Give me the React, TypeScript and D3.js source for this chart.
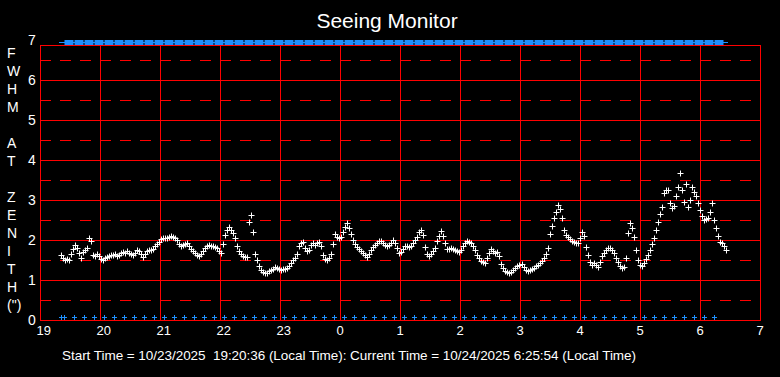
import React from "react";
import * as d3 from "d3";

const TITLE = "Seeing Monitor";
const FOOTER = "Start Time = 10/23/2025  19:20:36 (Local Time): Current Time = 10/24/2025 6:25:54 (Local Time)";
const Y_LETTERS = ["F", "W", "H", "M", "", "A", "T", "", "Z", "E", "N", "I", "T", "H", "(\")"];
const X_TICK_VALUES = [19, 20, 21, 22, 23, 24, 25, 26, 27, 28, 29, 30, 31];
const X_TICK_LABELS = ["19", "20", "21", "22", "23", "0", "1", "2", "3", "4", "5", "6", "7"];
const Y_TICK_VALUES = [0, 1, 2, 3, 4, 5, 6, 7];
const Y_HALF_VALUES = [0.5, 1.5, 2.5, 3.5, 4.5, 5.5, 6.5];

// start 19:20:36, end 06:25:54 (next day), hours since 0:00 of first day
const START_HOUR = 19 + 20 / 60 + 36 / 3600;
const END_HOUR = 30 + 25 / 60 + 54 / 3600;

// FWHM seeing values (arcsec), evenly sampled from start to end
const FWHM = [
  1.63, 1.55, 1.5, 1.52, 1.5, 1.65, 1.78, 1.87, 1.8, 1.68,
  1.56, 1.7, 1.75, 1.8, 2.05, 1.98, 1.62, 1.6, 1.66, 1.6,
  1.52, 1.5, 1.55, 1.57, 1.6, 1.63, 1.62, 1.64, 1.6, 1.62,
  1.68, 1.7, 1.68, 1.72, 1.68, 1.65, 1.62, 1.68, 1.75, 1.72,
  1.65, 1.58, 1.65, 1.72, 1.75, 1.74, 1.78, 1.85, 1.9, 1.95,
  2.02, 2.05, 2.06, 2.04, 2.08, 2.1, 2.08, 2.04, 2.0, 1.9,
  1.85, 1.88, 1.9, 1.92, 1.85, 1.78, 1.72, 1.67, 1.62, 1.6,
  1.65, 1.72, 1.8, 1.85, 1.87, 1.85, 1.84, 1.82, 1.8, 1.72,
  1.67, 1.9, 2.12, 2.25, 2.32, 2.25, 2.18, 2.05, 1.85, 1.72,
  1.65, 1.6, 1.58, 1.58, 2.45, 2.62, 2.2, 1.65, 1.5, 1.35,
  1.25, 1.2, 1.17, 1.18, 1.22, 1.25, 1.28, 1.32, 1.3, 1.27,
  1.26, 1.28, 1.27, 1.3, 1.35, 1.42, 1.5, 1.56, 1.64, 1.85,
  1.93, 1.95, 1.8, 1.72, 1.75, 1.88, 1.92, 1.87, 1.93, 1.95,
  1.85, 1.62, 1.52, 1.5, 1.55, 1.65, 1.9, 2.15, 2.08, 2.05,
  2.07, 2.2, 2.32, 2.42, 2.3, 2.15, 2.0, 1.9, 1.83, 1.78,
  1.72, 1.68, 1.62, 1.58, 1.65, 1.75, 1.83, 1.88, 1.92, 1.97,
  1.98, 1.92, 1.87, 1.85, 1.88, 1.92, 2.0, 1.92, 1.8, 1.68,
  1.7, 1.78, 1.86, 1.85, 1.83, 1.86, 1.92, 2.0, 2.08, 2.2,
  2.25, 2.12, 1.82, 1.65, 1.6, 1.66, 1.72, 1.8, 1.98, 2.1,
  2.22, 2.1, 1.92, 1.78, 1.77, 1.8, 1.78, 1.75, 1.73, 1.7,
  1.75, 1.85, 1.93, 1.98, 1.96, 1.92, 1.85, 1.75, 1.62, 1.55,
  1.47, 1.45, 1.43, 1.55, 1.68, 1.77, 1.72, 1.68, 1.7, 1.6,
  1.4, 1.3, 1.23, 1.2, 1.17, 1.2, 1.25, 1.3, 1.35, 1.38,
  1.4, 1.32, 1.26, 1.23, 1.26, 1.28, 1.3, 1.34, 1.37, 1.42,
  1.47, 1.55, 1.65, 1.8, 2.15, 2.35, 2.55, 2.7, 2.87, 2.78,
  2.55, 2.25, 2.12, 2.07, 2.02, 1.98, 1.95, 1.93, 1.92, 2.05,
  2.2, 2.1, 1.83, 1.62, 1.45, 1.38, 1.42, 1.38, 1.33, 1.45,
  1.6, 1.68, 1.75, 1.8, 1.8, 1.75, 1.67, 1.55, 1.45, 1.35,
  1.3, 1.33, 1.55, 2.17, 2.42, 2.3, 2.07, 1.75, 1.5, 1.38,
  1.35, 1.42, 1.52, 1.62, 1.75, 1.9, 2.05, 2.25, 2.45, 2.65,
  2.83, 3.17, 3.25, 3.25, 2.92, 2.8, 2.85, 3.1, 3.33, 3.67,
  3.25, 2.95, 3.4, 2.83, 3.0, 3.33, 3.2, 3.1, 2.92, 2.75,
  2.6, 2.5, 2.52, 2.55, 2.7, 2.92, 2.5, 2.3, 2.1, 1.95,
  1.93, 1.85, 1.75,
];

// status markers (minutes after 19:00)
const TOP_STATUS_MIN = d3.range(24.5, 680, 10);
const BOTTOM_STATUS_MIN = [20.6, 24].concat(d3.range(34, 675, 10));

const W = 780;
const H = 377;
const LEFT = 40;
const RIGHT = 760;
const TOP = 45;
const BOTTOM = 320;
const RED = "#ff0000";
const BLUE = "#1e90ff";
const FONT = "'Liberation Sans', Arial, sans-serif";

export default function App() {
  const x = d3.scaleLinear().domain([19, 31]).range([LEFT, RIGHT]);
  const y = d3.scaleLinear().domain([0, 7]).range([BOTTOM, 40]);
  const n = FWHM.length;
  const pts = FWHM.map((v, i) => ({
    t: START_HOUR + (i * (END_HOUR - START_HOUR)) / (n - 1),
    v,
  }));

  return (
    <svg
      width={W}
      height={H}
      style={{ position: "absolute", left: 0, top: 0, display: "block", background: "#000" }}
    >
      <rect x={0} y={0} width={W} height={H} fill="#000" />
      <text x={387} y={28} fill="#fff" fontFamily={FONT} fontSize={21} textAnchor="middle">
        {TITLE}
      </text>

      {/* dashed half-unit lines */}
      {Y_HALF_VALUES.map((v) => (
        <line
          key={"h" + v}
          x1={LEFT}
          x2={RIGHT}
          y1={Math.round(y(v)) + 0.5}
          y2={Math.round(y(v)) + 0.5}
          stroke={RED}
          strokeWidth={1}
          strokeDasharray="11,9"
        />
      ))}
      {/* solid integer lines */}
      {Y_TICK_VALUES.filter((v) => v > 0 && v < 7).map((v) => (
        <line
          key={"g" + v}
          x1={LEFT}
          x2={RIGHT}
          y1={Math.round(y(v)) + 0.5}
          y2={Math.round(y(v)) + 0.5}
          stroke={RED}
          strokeWidth={1}
        />
      ))}
      {X_TICK_VALUES.map((v) => (
        <line
          key={"v" + v}
          x1={Math.round(x(v)) + 0.5}
          x2={Math.round(x(v)) + 0.5}
          y1={TOP}
          y2={BOTTOM}
          stroke={RED}
          strokeWidth={1}
        />
      ))}
      <rect
        x={LEFT + 0.5}
        y={TOP + 0.5}
        width={RIGHT - LEFT}
        height={BOTTOM - TOP}
        fill="none"
        stroke={RED}
        strokeWidth={1}
      />

      {/* top status band */}
      <line
        x1={x(19 + 19 / 60)}
        x2={x(19 + 688 / 60)}
        y1={42.5}
        y2={42.5}
        stroke={BLUE}
        strokeWidth={1}
      />
      {TOP_STATUS_MIN.map((m) => (
        <rect key={"ts" + m} x={x(19 + m / 60)} y={40} width={9} height={5} fill={BLUE} />
      ))}
      {/* bottom status markers */}
      {BOTTOM_STATUS_MIN.map((m) => {
        const cx = Math.round(x(19 + m / 60)) + 0.5;
        const cy = 317.5;
        return (
          <path
            key={"bs" + m}
            d={`M${cx - 2.5},${cy}H${cx + 2.5}M${cx},${cy - 2.5}V${cy + 2.5}`}
            stroke={BLUE}
            strokeWidth={1}
          />
        );
      })}

      {/* data points */}
      {pts.map((p, i) => {
        const cx = Math.round(x(p.t)) + 0.5;
        const cy = Math.round(y(p.v)) + 0.5;
        return (
          <path
            key={"p" + i}
            d={`M${cx - 3},${cy}H${cx + 3}M${cx},${cy - 3}V${cy + 3}`}
            stroke="#fff"
            strokeWidth={1}
          />
        );
      })}

      {/* y ticks */}
      {Y_TICK_VALUES.map((v) => (
        <text
          key={"yt" + v}
          x={28}
          y={y(v) + 5}
          fill="#fff"
          fontFamily={FONT}
          fontSize={14}
        >
          {v}
        </text>
      ))}
      {/* x ticks */}
      {X_TICK_VALUES.map((v, i) => (
        <text
          key={"xt" + v}
          x={x(v) - 3.5}
          y={335}
          fill="#fff"
          fontFamily={FONT}
          fontSize={13}
        >
          {X_TICK_LABELS[i]}
        </text>
      ))}
      {/* y axis label */}
      {Y_LETTERS.map((c, i) => (
        <text
          key={"yl" + i}
          x={7}
          y={58.3 + i * 18}
          fill="#fff"
          fontFamily={FONT}
          fontSize={14}
        >
          {c}
        </text>
      ))}
      <text
        x={62}
        y={360}
        fill="#fff"
        fontFamily={FONT}
        fontSize={13.5}
        textLength={574}
        lengthAdjust="spacing"
        style={{ whiteSpace: "pre" }}
      >
        {FOOTER}
      </text>
    </svg>
  );
}
